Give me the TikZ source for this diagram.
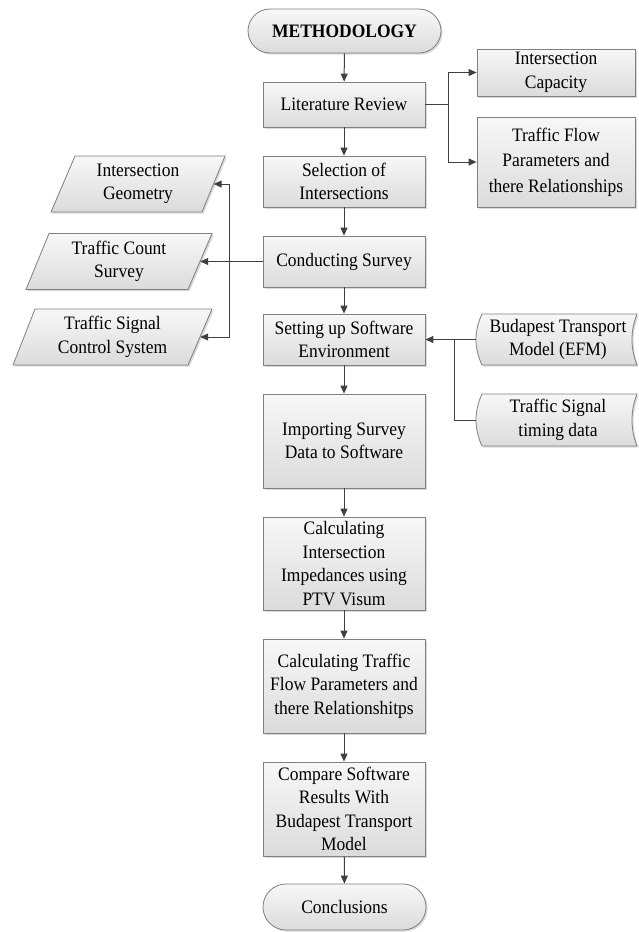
\documentclass[tikz,border=0pt]{standalone}
\usepackage{fontspec}
\setmainfont[FakeStretch=0.92]{Liberation Serif}
\usetikzlibrary{arrows.meta,shadows}
\begin{document}
\begin{tikzpicture}[x=1pt,y=-1pt,
  base/.style={font=\fontsize{19}{23.5}\selectfont, align=center, inner sep=0pt},
  shadebox/.style={top color=black!3, bottom color=black!14, draw=black!50, line width=0.8pt,
    drop shadow={shadow xshift=1.6pt, shadow yshift=-1.6pt, opacity=0.15, fill=black}},
  proc/.style={base, shadebox, rectangle, minimum width=162pt},
  term/.style={base, shadebox, rectangle},
  plain/.style={base, minimum height=56pt},
  line/.style={draw=black!75, line width=1pt},
  arr/.style={line, -{Triangle[length=8pt,width=7pt]}}
]
\path[use as bounding box] (0,0) rectangle (638,932);

% main column
\node[term, minimum width=193pt, minimum height=44pt, rounded corners=22pt] (meth) at (344.5,31) {\textbf{METHODOLOGY}};
\node[proc, minimum height=45pt] (lit) at (344,104.5) {Literature Review};
\node[proc, minimum height=51pt] (sel) at (344,181.5) {Selection of\\Intersections};
\node[proc, minimum height=51pt] (cond) at (344,261.5) {Conducting Survey};
\node[proc, minimum height=51pt] (setup) at (344,339.5) {Setting up Software\\Environment};
\node[proc, minimum height=94pt] (imp) at (344,441) {Importing Survey\\Data to Software};
\node[proc, minimum height=93pt] (calcA) at (344,563.5) {Calculating\\Intersection\\Impedances using\\PTV Visum};
\node[proc, minimum height=94pt] (calcB) at (344,686) {Calculating Traffic\\Flow Parameters and\\there Relationshitps};
\node[proc, minimum height=94pt] (comp) at (344,809) {Compare Software\\Results With\\Budapest Transport\\Model};
\node[term, minimum width=163pt, minimum height=46pt, rounded corners=23pt] (concl) at (344.5,907) {Conclusions};

% right boxes
\node[proc, minimum width=158pt, minimum height=47pt] (cap) at (556,72.5) {Intersection\\Capacity};
\node[proc, minimum width=158pt, minimum height=90pt, font=\fontsize{19}{25.5}\selectfont] (tfp) at (556,162) {Traffic Flow\\Parameters and\\there Relationships};

% left parallelograms
\path[shadebox] (75,156) -- (225,156) -- (202,212) -- (51,212) -- cycle;
\node[plain, minimum width=151pt] (geo) at (138,184) {Intersection\\Geometry};
\path[shadebox] (49,233.5) -- (212,233.5) -- (188,289.5) -- (26,289.5) -- cycle;
\node[plain, minimum width=162pt] (count) at (119,261.5) {Traffic Count\\Survey};
\path[shadebox] (35,309) -- (212,309) -- (188,365) -- (13,365) -- cycle;
\node[plain, minimum width=175pt] (sig) at (112.5,337) {Traffic Signal\\Control System};

% right stored data shapes
\path[shadebox] (482,314) -- (637,314) .. controls (630.3,331) and (630.3,348) .. (637,365)
  -- (482,365) .. controls (474,348) and (474,331) .. (482,314) -- cycle;
\node[base, minimum width=164pt, minimum height=51pt] (bud) at (558,339.5) {Budapest Transport\\Model (EFM)};
\path[shadebox] (482,394) -- (637,394) .. controls (630.3,411) and (630.3,429) .. (637,446)
  -- (482,446) .. controls (474,429) and (474,411) .. (482,394) -- cycle;
\node[base, minimum width=164pt, minimum height=52pt] (tsd) at (558,420) {Traffic Signal\\timing data};

% main flow arrows
\draw[arr] (meth) -- (lit);
\draw[arr] (lit) -- (sel);
\draw[arr] (sel) -- (cond);
\draw[arr] (cond) -- (setup);
\draw[arr] (setup) -- (imp);
\draw[arr] (imp) -- (calcA);
\draw[arr] (calcA) -- (calcB);
\draw[arr] (calcB) -- (comp);
\draw[arr] (comp) -- (concl);

% literature review branches
\coordinate (jR) at (448,104.5);
\draw[line] (lit.east) -- (jR);
\draw[arr] (jR) |- (cap.west);
\draw[arr] (jR) |- (tfp.west);

% survey branches
\coordinate (jL) at (229,261.5);
\draw[arr] (cond.west) -- (count.east);
\draw[arr] (jL) |- (geo.east);
\draw[arr] (jL) |- (sig.east);

% software inputs
\coordinate (jS) at (454,339.5);
\draw[arr] (bud.west) -- (setup.east);
\draw[line] (tsd.west) -| (jS);
\end{tikzpicture}
\end{document}
